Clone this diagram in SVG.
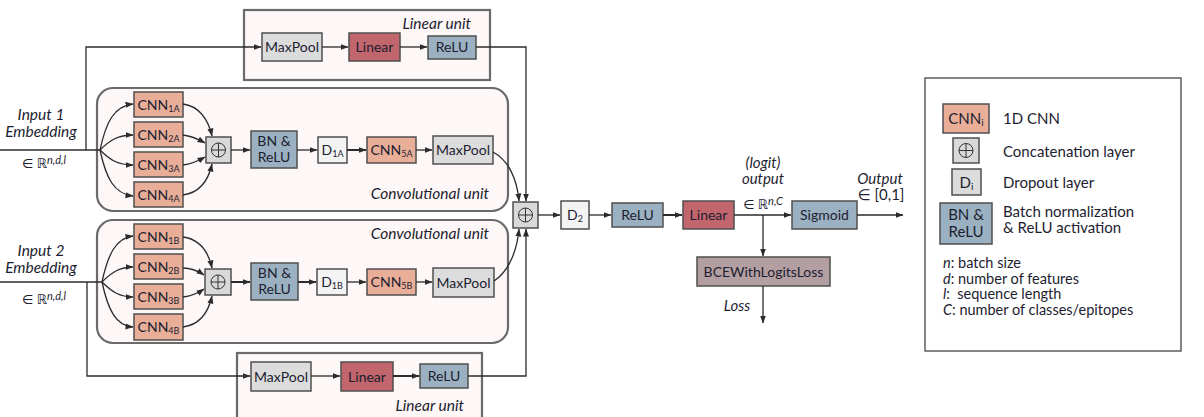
<svg xmlns="http://www.w3.org/2000/svg" width="1204" height="417" viewBox="0 0 1204 417">
<defs>
<marker id="ah" markerUnits="userSpaceOnUse" markerWidth="8" markerHeight="7" refX="7.5" refY="3.5" orient="auto">
<path d="M0,0.5 L8,3.5 L0,6.5 z" fill="#2b2b2b"/>
</marker>
<style>
.unit{fill:#fdf8f7;stroke:#6a6a6a;stroke-width:2.2}
.b{stroke:#4f4f4f;stroke-width:1.5}
.cnn{fill:#e9ae98}
.lin{fill:#c1666c}
.blue{fill:#9bb1c2}
.mp{fill:#dcdcdc}
.drop{fill:#f3f3f3}
.cat{fill:#d9d9d9}
.bce{fill:#b39fa2}
.t{font-family:Lato,"DejaVu Sans",sans-serif;font-size:14px;fill:#1d1d30;text-anchor:middle}
.it{font-style:italic}
.lg{font-family:Lato,"DejaVu Sans",sans-serif;font-size:15px;fill:#1d1d30}
.nt{font-family:Lato,"DejaVu Sans",sans-serif;font-size:14.5px;fill:#1d1d30}
.inp{font-size:15.5px}
.sub{font-size:9px}
.c{fill:none;stroke:#2b2b2b;stroke-width:1.3}
.thk{stroke-width:2}
.sym{fill:none;stroke:#333;stroke-width:1}
</style>
</defs>
<rect width="1204" height="417" fill="#ffffff"/>

<!-- units -->
<g id="linear-unit-top">
<rect class="unit" x="244" y="10" width="246" height="70"/>
<text class="t it" x="471" y="29" style="text-anchor:end;font-size:15.5px">Linear unit</text>
</g>
<g id="conv-unit-a">
<rect class="unit" x="97" y="88" width="411" height="123" rx="16"/>
<text class="t it" x="489" y="199" style="text-anchor:end;font-size:15.5px">Convolutional unit</text>
</g>
<g id="conv-unit-b">
<rect class="unit" x="97" y="220" width="411" height="123" rx="16"/>
<text class="t it" x="489" y="239" style="text-anchor:end;font-size:15.5px">Convolutional unit</text>
</g>
<g id="linear-unit-bottom">
<rect class="unit" x="237" y="353" width="245" height="80"/>
<text class="t it" x="464" y="411" style="text-anchor:end;font-size:15.5px">Linear unit</text>
</g>

<!-- inputs -->
<g id="input1">
<text class="t it inp" x="41" y="120">Input 1</text>
<text class="t it inp" x="41" y="137">Embedding</text>
<text class="t" x="44" y="168" style="font-size:13px">∈ ℝ<tspan class="it" font-size="11" dy="-4">n,d,l</tspan></text>
</g>
<g id="input2">
<text class="t it inp" x="41" y="256">Input 2</text>
<text class="t it inp" x="41" y="273">Embedding</text>
<text class="t" x="44" y="304" style="font-size:13px">∈ ℝ<tspan class="it" font-size="11" dy="-4">n,d,l</tspan></text>
</g>

<!-- top linear unit nodes -->
<g id="maxpool-top"><rect class="b mp" x="262" y="33" width="60" height="28"/><text class="t" x="292" y="52">MaxPool</text></g>
<g id="linear-top"><rect class="b lin" x="349" y="33" width="51" height="28"/><text class="t" x="374.5" y="52">Linear</text></g>
<g id="relu-top"><rect class="b blue" x="428" y="36" width="48" height="23"/><text class="t" x="452" y="52">ReLU</text></g>

<!-- conv unit A nodes -->
<g id="cnn1a"><rect class="b cnn" x="134" y="92" width="49" height="25"/><text class="t" x="158.5" y="109.5">CNN<tspan class="sub" dy="2">1A</tspan></text></g>
<g id="cnn2a"><rect class="b cnn" x="134" y="122" width="49" height="25"/><text class="t" x="158.5" y="139.5">CNN<tspan class="sub" dy="2">2A</tspan></text></g>
<g id="cnn3a"><rect class="b cnn" x="134" y="152" width="49" height="25"/><text class="t" x="158.5" y="169.5">CNN<tspan class="sub" dy="2">3A</tspan></text></g>
<g id="cnn4a"><rect class="b cnn" x="134" y="182" width="49" height="25"/><text class="t" x="158.5" y="199.5">CNN<tspan class="sub" dy="2">4A</tspan></text></g>
<g id="cat-a"><rect class="b cat" x="206" y="137" width="25" height="26"/><circle class="sym" cx="218.5" cy="150" r="7"/><path class="sym" d="M211.5,150 H225.5 M218.5,143 V157"/></g>
<g id="bn-a"><rect class="b blue" x="251" y="131" width="46" height="37"/><text class="t" x="274" y="146">BN &amp;</text><text class="t" x="274" y="162">ReLU</text></g>
<g id="d1a"><rect class="b drop" x="318" y="137" width="29" height="26"/><text class="t" x="332.5" y="154.5">D<tspan class="sub" dy="2">1A</tspan></text></g>
<g id="cnn5a"><rect class="b cnn" x="367" y="137" width="49" height="26"/><text class="t" x="391.5" y="154.5">CNN<tspan class="sub" dy="2">5A</tspan></text></g>
<g id="maxpool-a"><rect class="b mp" x="433" y="136" width="60" height="28"/><text class="t" x="463" y="155">MaxPool</text></g>

<!-- conv unit B nodes -->
<g id="cnn1b"><rect class="b cnn" x="134" y="224" width="49" height="25"/><text class="t" x="158.5" y="241.5">CNN<tspan class="sub" dy="2">1B</tspan></text></g>
<g id="cnn2b"><rect class="b cnn" x="134" y="254" width="49" height="25"/><text class="t" x="158.5" y="271.5">CNN<tspan class="sub" dy="2">2B</tspan></text></g>
<g id="cnn3b"><rect class="b cnn" x="134" y="284" width="49" height="25"/><text class="t" x="158.5" y="301.5">CNN<tspan class="sub" dy="2">3B</tspan></text></g>
<g id="cnn4b"><rect class="b cnn" x="134" y="314" width="49" height="26"/><text class="t" x="158.5" y="331.5">CNN<tspan class="sub" dy="2">4B</tspan></text></g>
<g id="cat-b"><rect class="b cat" x="205" y="269" width="26" height="26"/><circle class="sym" cx="218" cy="282" r="7"/><path class="sym" d="M211,282 H225 M218,275 V289"/></g>
<g id="bn-b"><rect class="b blue" x="251" y="263" width="47" height="37"/><text class="t" x="274.5" y="278">BN &amp;</text><text class="t" x="274.5" y="294">ReLU</text></g>
<g id="d1b"><rect class="b drop" x="317" y="269" width="30" height="26"/><text class="t" x="332" y="286.5">D<tspan class="sub" dy="2">1B</tspan></text></g>
<g id="cnn5b"><rect class="b cnn" x="367" y="269" width="49" height="26"/><text class="t" x="391.5" y="286.5">CNN<tspan class="sub" dy="2">5B</tspan></text></g>
<g id="maxpool-b"><rect class="b mp" x="433" y="268" width="61" height="29"/><text class="t" x="463.5" y="287.5">MaxPool</text></g>

<!-- bottom linear unit nodes -->
<g id="maxpool-bottom"><rect class="b mp" x="251" y="362" width="60" height="29"/><text class="t" x="281" y="381.5">MaxPool</text></g>
<g id="linear-bottom"><rect class="b lin" x="341" y="362" width="52" height="29"/><text class="t" x="367" y="381.5">Linear</text></g>
<g id="relu-bottom"><rect class="b blue" x="420" y="364" width="48" height="24"/><text class="t" x="444" y="381">ReLU</text></g>

<!-- main path nodes -->
<g id="cat-main"><rect class="b cat" x="513" y="202" width="25" height="26"/><circle class="sym" cx="525.5" cy="215" r="7"/><path class="sym" d="M518.5,215 H532.5 M525.5,208 V222"/></g>
<g id="d2"><rect class="b drop" x="561" y="201" width="28" height="28"/><text class="t" x="575" y="219.5">D<tspan class="sub" dy="2">2</tspan></text></g>
<g id="relu-main"><rect class="b blue" x="612" y="203" width="51" height="24"/><text class="t" x="637.5" y="220">ReLU</text></g>
<g id="linear-main"><rect class="b lin" x="683" y="201" width="51" height="28"/><text class="t" x="708.5" y="220">Linear</text></g>
<g id="sigmoid"><rect class="b blue" x="792" y="201" width="65" height="28"/><text class="t" x="824.5" y="220">Sigmoid</text></g>
<g id="bce"><rect class="b bce" x="697" y="257" width="133" height="29"/><text class="t" x="763.5" y="276.5">BCEWithLogitsLoss</text></g>

<g id="labels">
<text class="t it" x="763" y="168" style="font-size:15px">(logit)</text>
<text class="t it" x="763" y="184" style="font-size:15px">output</text>
<text class="t" x="763" y="209" style="font-size:13px">∈ ℝ<tspan class="it" font-size="11" dy="-4">n,C</tspan></text>
<text class="t it" x="880" y="184" style="font-size:15px">Output</text>
<text class="t" x="881" y="200" style="font-size:15px">∈ [0,1]</text>
<text class="t it" x="737" y="311" style="font-size:15px">Loss</text>
</g>

<!-- connectors -->
<g id="connectors">
<!-- input 1 -->
<path class="c" d="M0,150 H100"/>
<path class="c" d="M86,150 V47 H261" marker-end="url(#ah)"/>
<path class="c" d="M322,47 H348" marker-end="url(#ah)"/>
<path class="c" d="M400,47 H427" marker-end="url(#ah)"/>
<path class="c" d="M476,47 H526 V201" marker-end="url(#ah)"/>
<path class="c" d="M100,150 C106,122 114,106 133,104" marker-end="url(#ah)"/>
<path class="c" d="M100,150 C110,140 118,135 133,135" marker-end="url(#ah)"/>
<path class="c" d="M100,150 C110,160 118,165 133,165" marker-end="url(#ah)"/>
<path class="c" d="M100,150 C106,178 114,194 133,196" marker-end="url(#ah)"/>
<path class="c" d="M183,104 C198,106 208,118 212,136" marker-end="url(#ah)"/>
<path class="c" d="M183,135 C192,136 198,139 205,143" marker-end="url(#ah)"/>
<path class="c" d="M183,165 C192,164 198,161 205,157" marker-end="url(#ah)"/>
<path class="c" d="M183,195 C198,193 208,182 212,164" marker-end="url(#ah)"/>
<path class="c" d="M231,150 H250" marker-end="url(#ah)"/>
<path class="c" d="M297,150 H317" marker-end="url(#ah)"/>
<path class="c thk" d="M347,150 H366" marker-end="url(#ah)"/>
<path class="c" d="M416,150 H432" marker-end="url(#ah)"/>
<path class="c" d="M493,152 C508,160 517,178 519,201" marker-end="url(#ah)"/>
<!-- input 2 -->
<path class="c" d="M0,282 H102"/>
<path class="c" d="M87,282 V376 H250" marker-end="url(#ah)"/>
<path class="c" d="M311,376 H340" marker-end="url(#ah)"/>
<path class="c thk" d="M393,376 H419" marker-end="url(#ah)"/>
<path class="c" d="M468,376 H526 V229" marker-end="url(#ah)"/>
<path class="c" d="M102,282 C108,254 116,238 133,236" marker-end="url(#ah)"/>
<path class="c" d="M102,282 C112,272 120,267 133,267" marker-end="url(#ah)"/>
<path class="c" d="M102,282 C112,292 120,297 133,297" marker-end="url(#ah)"/>
<path class="c" d="M102,282 C108,310 116,326 133,327" marker-end="url(#ah)"/>
<path class="c" d="M183,237 C198,239 208,250 212,268" marker-end="url(#ah)"/>
<path class="c" d="M183,268 C192,268 198,271 204,275" marker-end="url(#ah)"/>
<path class="c" d="M183,297 C192,296 198,293 204,289" marker-end="url(#ah)"/>
<path class="c" d="M183,327 C198,325 208,314 212,296" marker-end="url(#ah)"/>
<path class="c thk" d="M231,282 H250" marker-end="url(#ah)"/>
<path class="c thk" d="M298,282 H316" marker-end="url(#ah)"/>
<path class="c" d="M347,282 H366" marker-end="url(#ah)"/>
<path class="c" d="M416,282 H432" marker-end="url(#ah)"/>
<path class="c" d="M494,281 C508,272 517,252 519,229" marker-end="url(#ah)"/>
<!-- main path -->
<path class="c" d="M538,215 H560" marker-end="url(#ah)"/>
<path class="c" d="M589,215 H611" marker-end="url(#ah)"/>
<path class="c thk" d="M663,215 H682" marker-end="url(#ah)"/>
<path class="c" d="M734,215 H791" marker-end="url(#ah)"/>
<path class="c" d="M857,215 H903" marker-end="url(#ah)"/>
<path class="c" d="M763,215 V256" marker-end="url(#ah)"/>
<path class="c" d="M763,286 V323" marker-end="url(#ah)"/>
</g>

<!-- legend -->
<g id="legend">
<rect x="925" y="78" width="256" height="273" fill="#ffffff" stroke="#444" stroke-width="1.3"/>
<rect class="b cnn" x="943" y="104" width="46" height="29"/>
<text class="t" x="966" y="123.5" style="font-size:15px">CNN<tspan font-size="10" dy="2">i</tspan></text>
<text class="lg" x="1003" y="124">1D CNN</text>
<rect class="b cat" x="953" y="138" width="26" height="25"/>
<circle class="sym" cx="966" cy="150.5" r="7"/><path class="sym" d="M959,150.5 H973 M966,143.5 V157.5"/>
<text class="lg" x="1003" y="157">Concatenation layer</text>
<rect class="b mp" x="952" y="169" width="29" height="26"/>
<text class="t" x="966.5" y="187.5" style="font-size:15px">D<tspan font-size="10" dy="2">i</tspan></text>
<text class="lg" x="1003" y="188">Dropout layer</text>
<rect class="b blue" x="940" y="203" width="52" height="41"/>
<text class="t" x="966" y="220" style="font-size:15px">BN &amp;</text>
<text class="t" x="966" y="237" style="font-size:15px">ReLU</text>
<text class="lg" x="1003" y="217">Batch normalization</text>
<text class="lg" x="1003" y="233">&amp; ReLU activation</text>
<text class="nt" x="943" y="268"><tspan font-style="italic">n</tspan>: batch size</text>
<text class="nt" x="943" y="283.5"><tspan font-style="italic">d</tspan>: number of features</text>
<text class="nt" x="943" y="299" xml:space="preserve"><tspan font-style="italic">l</tspan>:  sequence length</text>
<text class="nt" x="943" y="314.5"><tspan font-style="italic">C</tspan>: number of classes/epitopes</text>
</g>
</svg>
